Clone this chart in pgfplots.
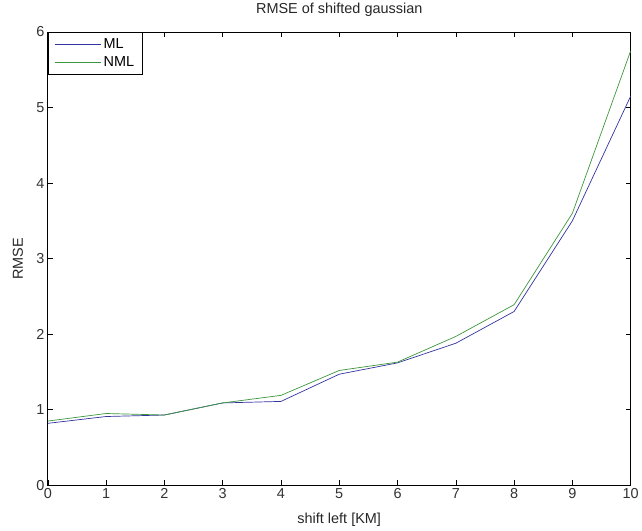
\documentclass[border=0pt]{standalone}
\usepackage{pgfplots}
\pgfplotsset{compat=1.18}
\usepackage{fontspec}
\setmainfont{Liberation Sans}
\definecolor{mlblue}{RGB}{50,50,160}
\definecolor{nmlgreen}{RGB}{60,150,60}
\begin{document}
\begin{tikzpicture}
\begin{axis}[
  name=ax,
  scale only axis,
  width=585pt, height=455pt,
  xmin=0, xmax=10, ymin=0, ymax=6,
  xtick={0,...,10}, ytick={0,...,6},
  tick align=inside,
  major tick length=5pt,
  axis line style={black, line width=0.8pt},
  every tick/.style={black, line width=0.6pt},
  /pgf/number format/assume math mode=true,
  font=\fontsize{14.5}{17}\selectfont,
  tick label style={font=\fontsize{14.5}{17}\selectfont, text=black!80},
  title={RMSE of shifted gaussian},
  title style={at={(axis description cs:0.5,1+16/455)}, anchor=center, font=\fontsize{14.5}{17}\selectfont, text=black!85},
  xlabel={shift left [KM]},
  ylabel={RMSE},
  xlabel style={at={(axis description cs:0.5,-35/455)}, anchor=center, text=black!85},
  ylabel style={at={(axis description cs:-30/585,0.5)}, anchor=center, text=black!85},
  legend style={at={(0,1)}, anchor=north west, draw=black, line width=0.8pt,
    font=\fontsize{14.5}{17}\selectfont, inner xsep=6pt, inner ysep=4pt, row sep=3pt,
    cells={anchor=west}},
  legend image code/.code={\draw[#1, line width=0.7pt] (0pt,0pt) -- (47pt,0pt);},
]
\addplot[mlblue, line width=0.7pt] coordinates {
(0,0.82) (1,0.91) (2,0.93) (3,1.09) (4,1.11) (5,1.47) (6,1.62) (7,1.88) (8,2.30) (9,3.50) (10,5.15)};
\addlegendentry{ML}
\addplot[nmlgreen, line width=0.7pt] coordinates {
(0,0.85) (1,0.95) (2,0.93) (3,1.09) (4,1.19) (5,1.52) (6,1.63) (7,1.97) (8,2.39) (9,3.60) (10,5.75)};
\addlegendentry{NML}
\end{axis}
\path[use as bounding box] ([xshift=-48pt,yshift=-44pt]ax.south west) rectangle ([xshift=9pt,yshift=30pt]ax.north east);
\end{tikzpicture}
\end{document}
